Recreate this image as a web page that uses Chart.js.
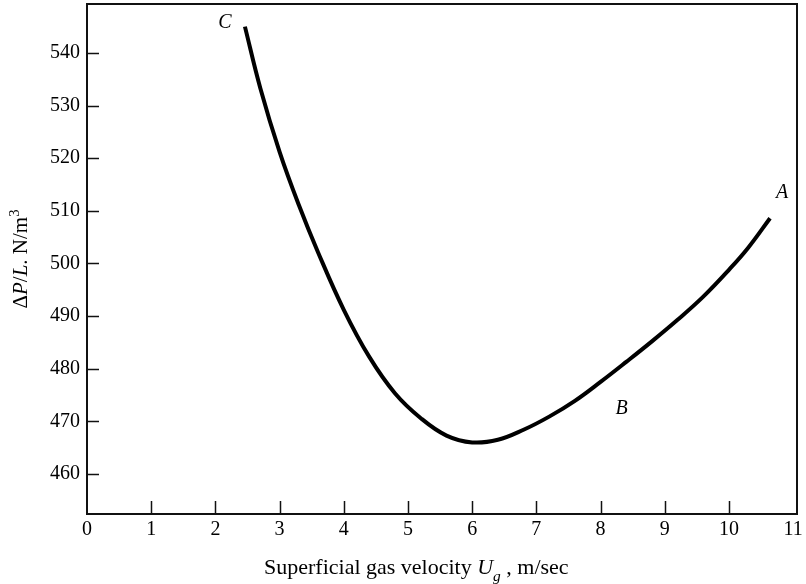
<!DOCTYPE html>
<html>
<head>
<meta charset="utf-8">
<script src="https://cdn.jsdelivr.net/npm/chart.js@4.4.1/dist/chart.umd.min.js"></script>
<style>
  html, body { margin: 0; padding: 0; background: #fff; }
  #wrap { width: 806px; height: 584px; }
</style>
</head>
<body>
<div id="wrap"><canvas id="chart" width="806" height="584"></canvas></div>
<script>
// pressure drop vs superficial gas velocity
const velocity = [2.46, 2.7, 3.0, 3.3, 3.6, 4.0, 4.4, 4.8, 5.2, 5.6, 6.0, 6.4, 6.8, 7.2, 7.6, 8.0, 8.4, 8.8, 9.2, 9.6, 10.0, 10.3, 10.64];
const pressureDrop = [545.0, 533.3, 521.2, 511.1, 502.1, 491.2, 482.2, 475.3, 470.6, 467.3, 466.0, 466.5, 468.4, 470.9, 473.9, 477.5, 481.3, 485.2, 489.3, 493.7, 498.8, 503.0, 508.6];
const xTicks = [0, 1, 2, 3, 4, 5, 6, 7, 8, 9, 10, 11];
const yTicks = [460, 470, 480, 490, 500, 510, 520, 530, 540];
const pointNames = ['C', 'B', 'A'];
const pointIndex = [0, 15, 22];

const serif = '"Liberation Serif", "DejaVu Serif", serif';

// draws a run of text pieces (plain / italic / sub / sup) starting at x
function drawRuns(ctx, runs, x, y, size) {
  runs.forEach(r => {
    let s = size, dy = 0;
    if (r.sub) { s = size * 0.7; dy = size * 0.3; }
    if (r.sup) { s = size * 0.7; dy = -size * 0.4; }
    ctx.font = (r.italic ? 'italic ' : '') + s + 'px ' + serif;
    ctx.fillText(r.t, x, y + dy);
    x += ctx.measureText(r.t).width;
  });
}
function runsWidth(ctx, runs, size) {
  let w = 0;
  runs.forEach(r => {
    const s = (r.sub || r.sup) ? size * 0.7 : size;
    ctx.font = (r.italic ? 'italic ' : '') + s + 'px ' + serif;
    w += ctx.measureText(r.t).width;
  });
  return w;
}

const framePlugin = {
  id: 'frame',
  afterDraw(chart) {
    const ctx = chart.ctx;
    const a = chart.chartArea;
    const xs = chart.scales.x, ys = chart.scales.y;
    ctx.save();
    ctx.strokeStyle = '#111';
    ctx.lineWidth = 2;
    ctx.strokeRect(a.left, a.top, a.right - a.left, a.bottom - a.top);

    // inward tick marks
    ctx.lineWidth = 1.5;
    ctx.beginPath();
    xTicks.forEach(v => {
      if (v <= 0 || v >= 11) return;
      const px = Math.round(xs.getPixelForValue(v)) + 0.5;
      ctx.moveTo(px, a.bottom);
      ctx.lineTo(px, a.bottom - 13);
    });
    yTicks.forEach(v => {
      const py = Math.round(ys.getPixelForValue(v)) + 0.5;
      ctx.moveTo(a.left, py);
      ctx.lineTo(a.left + 12, py);
    });
    ctx.stroke();

    // curve point labels
    ctx.fillStyle = '#000';
    ctx.font = 'italic 20px ' + serif;
    ctx.textAlign = 'center';
    ctx.textBaseline = 'middle';
    const offs = [[-20, -4], [21, 27], [12, -25]];
    pointNames.forEach((n, i) => {
      const k = pointIndex[i];
      const px = xs.getPixelForValue(velocity[k]);
      const py = ys.getPixelForValue(pressureDrop[k]);
      ctx.fillText(n, px + offs[i][0], py + offs[i][1]);
    });

    // axis titles
    ctx.textAlign = 'left';
    ctx.textBaseline = 'alphabetic';
    const xRuns = [
      { t: 'Superficial gas velocity ' },
      { t: 'U', italic: true },
      { t: 'g', italic: true, sub: true },
      { t: ' , m/sec' }
    ];
    drawRuns(ctx, xRuns, 264, 574, 22);

    const yRuns = [
      { t: 'Δ' },
      { t: 'P', italic: true },
      { t: '/' },
      { t: 'L', italic: true },
      { t: '. N/m' },
      { t: '3', sup: true }
    ];
    const w = runsWidth(ctx, yRuns, 21);
    ctx.translate(27, (a.top + a.bottom) / 2);
    ctx.rotate(-Math.PI / 2);
    drawRuns(ctx, yRuns, -w / 2, 0, 21);
    ctx.restore();
  }
};

const points = velocity.map((v, i) => ({ x: v, y: pressureDrop[i] }));

new Chart(document.getElementById('chart'), {
  type: 'line',
  data: {
    datasets: [{
      data: points,
      borderColor: '#000',
      borderWidth: 4,
      pointRadius: 0,
      fill: false,
      tension: 0.4
    }]
  },
  options: {
    responsive: false,
    animation: false,
    layout: { padding: { left: 0, top: 4, right: 9, bottom: 0 } },
    plugins: { legend: { display: false }, tooltip: { enabled: false } },
    scales: {
      x: {
        type: 'linear',
        min: 0,
        max: 11.06,
        afterBuildTicks: s => { s.ticks = xTicks.map(v => ({ value: v })); },
        afterFit: s => { s.height = 70; s.paddingLeft = 0; s.paddingRight = 0; },
        grid: { display: false, drawTicks: false },
        border: { display: false },
        ticks: {
          color: '#000',
          padding: 4,
          maxRotation: 0,
          autoSkip: false,
          font: { family: serif, size: 20 }
        }
      },
      y: {
        type: 'linear',
        min: 452.4,
        max: 549.3,
        afterBuildTicks: s => { s.ticks = yTicks.map(v => ({ value: v })); },
        afterFit: s => { s.width = 87; s.paddingTop = 0; s.paddingBottom = 0; },
        grid: { display: false, drawTicks: false },
        border: { display: false },
        ticks: {
          color: '#000',
          padding: 7,
          autoSkip: false,
          font: { family: serif, size: 20 }
        }
      }
    }
  },
  plugins: [framePlugin]
});
</script>
</body>
</html>
